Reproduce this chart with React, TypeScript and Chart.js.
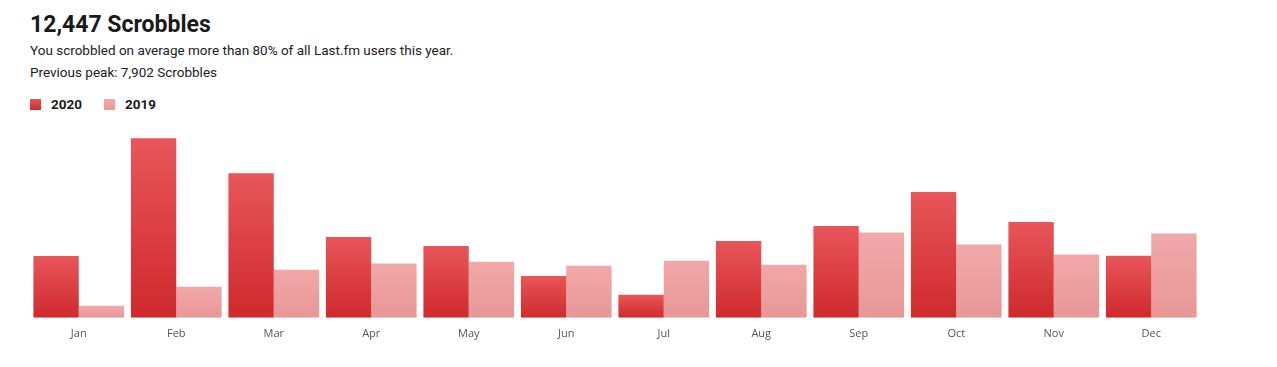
import React, { useEffect, useRef } from "react";
import { Chart, registerables } from "chart.js";

Chart.register(...registerables);

const months = ["Jan", "Feb", "Mar", "Apr", "May", "Jun", "Jul", "Aug", "Sep", "Oct", "Nov", "Dec"];
const scrobbles2020 = [729, 2117, 1705, 953, 847, 494, 271, 906, 1082, 1482, 1129, 732];
const scrobbles2019 = [142, 367, 568, 639, 662, 615, 674, 627, 1006, 864, 745, 994];

const TOTAL = "12,447 Scrobbles";
const SUBTITLE = "You scrobbled on average more than 80% of all Last.fm users this year.";
const PEAK = "Previous peak: 7,902 Scrobbles";

const COLORS = {
  y2020: ["#e8565a", "#cf2a2c"],
  y2019: ["#f1a8a8", "#e89696"],
};

function barGradient(colors: string[]) {
  return (ctx: any) => {
    const chart = ctx.chart;
    const area = chart.chartArea;
    if (!area || ctx.parsed == null) return colors[1];
    const yScale = chart.scales.y;
    const top = yScale.getPixelForValue(ctx.parsed.y);
    const bottom = yScale.getPixelForValue(0);
    if (!isFinite(top) || !isFinite(bottom) || Math.abs(bottom - top) < 1) return colors[1];
    const g = chart.ctx.createLinearGradient(0, top, 0, bottom);
    g.addColorStop(0, colors[0]);
    g.addColorStop(1, colors[1]);
    return g;
  };
}

export default function App() {
  const canvasRef = useRef<HTMLCanvasElement | null>(null);

  useEffect(() => {
    if (!canvasRef.current) return;
    const chart = new Chart(canvasRef.current, {
      type: "bar",
      data: {
        labels: months,
        datasets: [
          {
            label: "2020",
            data: scrobbles2020,
            backgroundColor: barGradient(COLORS.y2020),
            borderWidth: 0,
            categoryPercentage: 0.93,
            barPercentage: 1,
          },
          {
            label: "2019",
            data: scrobbles2019,
            backgroundColor: barGradient(COLORS.y2019),
            borderWidth: 0,
            categoryPercentage: 0.93,
            barPercentage: 1,
          },
        ],
      },
      options: {
        animation: false,
        responsive: false,
        maintainAspectRatio: false,
        layout: { padding: 0 },
        plugins: {
          legend: { display: false },
          tooltip: { enabled: false },
        },
        scales: {
          x: {
            grid: { display: false, drawTicks: false },
            border: { display: false },
            ticks: {
              color: "#555555",
              font: { family: "'Open Sans', sans-serif", size: 11 },
              padding: 9,
            },
          },
          y: {
            display: false,
            min: 0,
            max: 2356,
          },
        },
      },
    });
    return () => chart.destroy();
  }, []);

  return (
    <div style={{ position: "relative", width: 1261, height: 351, fontFamily: "Roboto, 'Noto Sans', sans-serif", color: "#1a1a1a" }}>
      <div style={{ position: "absolute", left: 22, top: 2, fontSize: 23, fontWeight: 700, lineHeight: "30px" }}>{TOTAL}</div>
      <div style={{ position: "absolute", left: 22, top: 33, fontSize: 13.5, lineHeight: "18px", color: "#222" }}>{SUBTITLE}</div>
      <div style={{ position: "absolute", left: 22, top: 55, fontSize: 13.5, lineHeight: "18px", color: "#222" }}>{PEAK}</div>
      <div style={{ position: "absolute", left: 22, top: 87, display: "flex", alignItems: "center", fontSize: 13.5, fontWeight: 700 }}>
        <span style={{ width: 11, height: 11, background: "linear-gradient(#e8565a,#cf2a2c)", display: "inline-block" }} />
        <span style={{ marginLeft: 10, lineHeight: "18px" }}>2020</span>
        <span style={{ width: 11, height: 11, background: "linear-gradient(#f1a8a8,#e89696)", display: "inline-block", marginLeft: 22 }} />
        <span style={{ marginLeft: 10, lineHeight: "18px" }}>2019</span>
      </div>
      <div style={{ position: "absolute", left: 22, top: 110 }}>
        <canvas ref={canvasRef} width={1170} height={231} style={{ display: "block" }} />
      </div>
    </div>
  );
}
